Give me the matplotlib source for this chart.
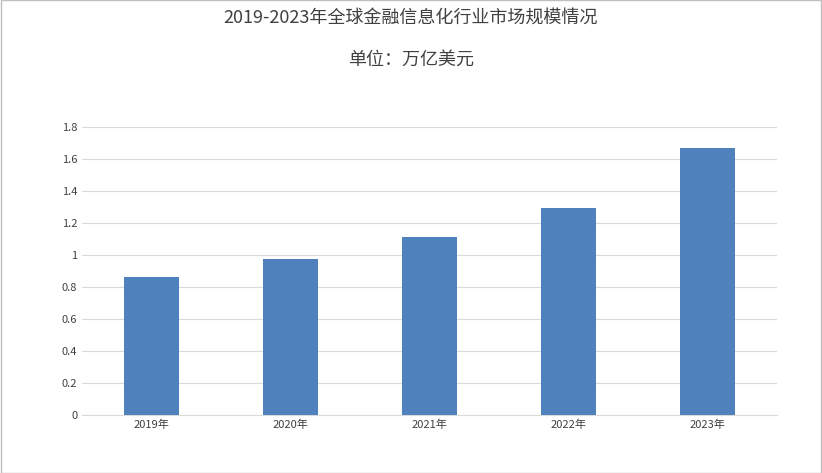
import matplotlib
matplotlib.use("Agg")
import matplotlib.pyplot as plt
from matplotlib.patches import Rectangle

plt.rcParams['font.family'] = ['Noto Sans CJK SC', 'DejaVu Sans']

years = ["2019年", "2020年", "2021年", "2022年", "2023年"]
values = [0.862, 0.975, 1.113, 1.294, 1.669]
yticks = [0, 0.2, 0.4, 0.6, 0.8, 1, 1.2, 1.4, 1.6, 1.8]
ytick_labels = ["0", "0.2", "0.4", "0.6", "0.8", "1", "1.2", "1.4", "1.6", "1.8"]

fig = plt.figure(figsize=(8.22, 4.73), dpi=100)
ax = fig.add_axes([0.0998, 0.1226, 0.8455, 0.6089])
x = list(range(len(years)))
ax.bar(x, values, width=0.4, color='#4F81BD', zorder=3)
ax.set_xlim(-0.5, 4.5)
ax.set_ylim(0, 1.8)
ax.set_yticks(yticks)
ax.set_yticklabels(ytick_labels)
ax.set_xticks(x)
ax.set_xticklabels(years)
ax.tick_params(axis='both', length=0, labelsize=8, colors='#404040')
ax.grid(axis='y', color='#D9D9D9', linewidth=0.8, zorder=0)
for s in ['top', 'right', 'left']:
    ax.spines[s].set_visible(False)
ax.spines['bottom'].set_color('#D9D9D9')

fig.text(0.5, 0.963, "2019-2023年全球金融信息化行业市场规模情况", ha='center', va='center', fontsize=13, color='#404040')
fig.text(0.5, 0.873, "单位：万亿美元", ha='center', va='center', fontsize=13, color='#404040')
fig.patches.append(Rectangle((0.001, 0.001), 0.998, 0.998, transform=fig.transFigure,
                             fill=False, edgecolor='#BFBFBF', linewidth=1))
fig.savefig("out.png", dpi=100)
